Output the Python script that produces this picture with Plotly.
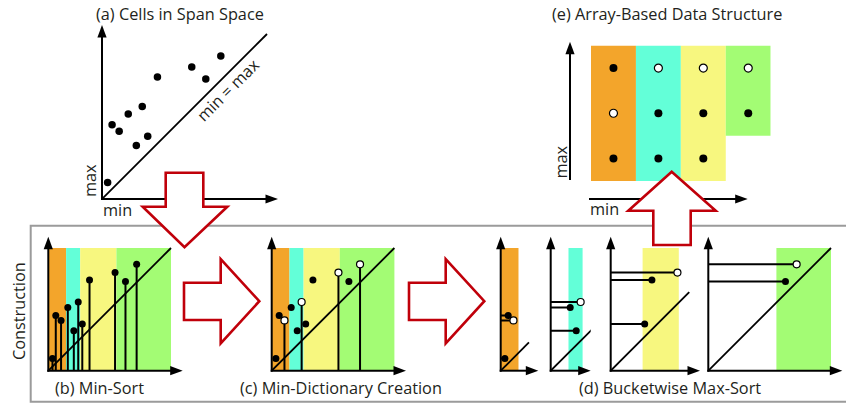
import math
import plotly.graph_objects as go

W, H = 846, 403

# Cells in span space: (min, max) per cell, units where the min = max diagonal spans 0..10
cell_min = [0.34, 0.61, 1.04, 1.59, 2.08, 2.44, 2.77, 3.36, 5.44, 6.29, 7.20]
cell_max = [1.00, 4.50, 4.10, 5.15, 3.25, 5.60, 3.80, 7.40, 8.00, 7.27, 8.67]

# Min-buckets (edges along the min axis) and their colours
bucket_edges = [0.0, 1.45, 2.6, 5.55, 10.0]
bucket_colors = ["#F3A52B", "#63FFD8", "#F7F77F", "#A3FC74"]
SPAN = 10.0

titles = ["(a) Cells in Span Space", "(b) Min-Sort", "(c) Min-Dictionary Creation",
          "(d) Bucketwise Max-Sort", "(e) Array-Based Data Structure"]

FONT = "Open Sans"
FS = 16.3
TXT = "#231F20"
RED = "#C0000A"


def px(x):
    return x / W


def py(y):
    return 1 - y / H


# ---- derived structure -------------------------------------------------------
n_buckets = len(bucket_edges) - 1
bucket_of = []
for m in cell_min:
    k = max(j for j in range(n_buckets) if bucket_edges[j] <= m)
    bucket_of.append(k)
members = [[i for i in range(len(cell_min)) if bucket_of[i] == k] for k in range(n_buckets)]
# dictionary entry of each bucket: the cell with the largest min
dict_entry = [max(mem, key=lambda i: cell_min[i]) for mem in members]

fig = go.Figure()
axes = {}
shapes = []
annotations = []


def make_axes(idx, ox, oy, tx, ty, scale, xr=None, yr=None):
    xn = "x" if idx == 1 else f"x{idx}"
    yn = "y" if idx == 1 else f"y{idx}"
    xk = "xaxis" if idx == 1 else f"xaxis{idx}"
    yk = "yaxis" if idx == 1 else f"yaxis{idx}"
    axes[xk] = dict(domain=[px(ox), px(tx)], range=xr or [0, (tx - ox) / scale],
                    visible=False, fixedrange=True, anchor=yn)
    axes[yk] = dict(domain=[py(oy), py(ty)], range=yr or [0, (oy - ty) / scale],
                    visible=False, fixedrange=True, anchor=xn)
    return xn, yn


def axis_arrow(x0, y0, x1, y1, head=12.5, half=4.6, width=2):
    dx, dy = x1 - x0, y1 - y0
    L = math.hypot(dx, dy)
    ux, uy = dx / L, dy / L
    bx, by = x1 - ux * head, y1 - uy * head
    shapes.append(dict(type="line", xref="paper", yref="paper",
                       x0=px(x0), y0=py(y0), x1=px(bx + ux), y1=py(by + uy),
                       line=dict(color="black", width=width), layer="above"))
    nx, ny = -uy, ux
    path = (f"M{px(x1)},{py(y1)} L{px(bx + nx * half)},{py(by + ny * half)} "
            f"L{px(bx - nx * half)},{py(by - ny * half)} Z")
    shapes.append(dict(type="path", path=path, xref="paper", yref="paper",
                       fillcolor="black", line=dict(width=0), layer="above"))


def block_arrow(points):
    path = "M" + " L".join(f"{px(x)},{py(y)}" for x, y in points) + " Z"
    shapes.append(dict(type="path", path=path, xref="paper", yref="paper",
                       fillcolor="white", line=dict(color=RED, width=2.6), layer="above"))


def text(x, y, s, size=FS, angle=0):
    annotations.append(dict(x=px(x), y=py(y), xref="paper", yref="paper", text=s,
                            showarrow=False, textangle=angle, xanchor="center",
                            yanchor="middle", font=dict(family=FONT, size=size, color=TXT)))


def dots(xn, yn, xs, ys, size=7, hollow=False):
    fig.add_trace(go.Scatter(
        x=xs, y=ys, xaxis=xn, yaxis=yn, mode="markers", cliponaxis=False, hoverinfo="skip",
        marker=dict(size=size, symbol="circle", color="white" if hollow else "black",
                    line=dict(color="black", width=1.2 if hollow else 0))))


def segs(xn, yn, pairs, width=2):
    xs, ys = [], []
    for (a, b), (c, d) in pairs:
        xs += [a, c, None]
        ys += [b, d, None]
    fig.add_trace(go.Scatter(x=xs, y=ys, xaxis=xn, yaxis=yn, mode="lines", cliponaxis=False,
                             hoverinfo="skip", line=dict(color="black", width=width)))


def bands(xn, yn, ks):
    fig.add_trace(go.Bar(
        x=[(bucket_edges[k] + bucket_edges[k + 1]) / 2 for k in ks],
        width=[bucket_edges[k + 1] - bucket_edges[k] for k in ks],
        y=[SPAN] * len(ks), base=0, xaxis=xn, yaxis=yn, hoverinfo="skip",
        marker=dict(color=[bucket_colors[k] for k in ks], line=dict(width=0))))


# ---- (a) cells in span space ----------------------------------------------------
ax_a = dict(ox=102, oy=199, tx=278, ty=25, scale=16.5)
xa, ya = make_axes(1, **ax_a)
segs(xa, ya, [((0, 0), (SPAN, SPAN))], width=1.8)
dots(xa, ya, cell_min, cell_max, size=7.5)
axis_arrow(ax_a["ox"], ax_a["oy"] + 1, ax_a["ox"], ax_a["ty"])
axis_arrow(ax_a["ox"] - 1, ax_a["oy"], ax_a["tx"], ax_a["oy"])
text(90, 181, "max", angle=-90)
text(117, 210, "min")
text(228, 90, "min = max", angle=-45)
text(179.7, 14, titles[0])

# ---- construction panels ---------------------------------------------------------
S = 12.27
OY, TY = 370.7, 236.7

# (b) min-sort
geo_b = dict(ox=48.3, oy=OY, tx=182.7, ty=TY, scale=S)
xb, yb = make_axes(2, **geo_b)
bands(xb, yb, list(range(n_buckets)))
segs(xb, yb, [((0, 0), (SPAN, SPAN))], width=1.8)
segs(xb, yb, [((m, 0), (m, M)) for m, M in zip(cell_min, cell_max)], width=2)
dots(xb, yb, cell_min, cell_max)

# (c) min-dictionary creation
geo_c = dict(ox=271.7, oy=OY, tx=406, ty=TY, scale=S)
xc, yc = make_axes(3, **geo_c)
bands(xc, yc, list(range(n_buckets)))
segs(xc, yc, [((0, 0), (SPAN, SPAN))], width=1.8)
segs(xc, yc, [((cell_min[i], 0), (cell_min[i], cell_max[i])) for i in dict_entry], width=2)
rest = [i for i in range(len(cell_min)) if i not in dict_entry]
dots(xc, yc, [cell_min[i] for i in rest], [cell_max[i] for i in rest])
dots(xc, yc, [cell_min[i] for i in dict_entry], [cell_max[i] for i in dict_entry], hollow=True)

# (d) bucketwise max-sort, one small plot per bucket
d_left = [500.7, 550.7, 610.7, 708.3]
d_tip = [538.3, 590.7, 700.0, 842.3]
d_geo = []
for k in range(n_buckets):
    g = dict(ox=d_left[k], oy=OY, tx=d_tip[k], ty=TY, scale=S)
    d_geo.append(g)
    xd, yd = make_axes(4 + k, **g)
    bands(xd, yd, [k])
    diag_end = min(SPAN, bucket_edges[k + 1] + 0.85)
    segs(xd, yd, [((0, 0), (diag_end, diag_end))], width=1.8)
    segs(xd, yd, [((0, cell_max[i]), (cell_min[i], cell_max[i])) for i in members[k]], width=2)
    full = [i for i in members[k] if i != dict_entry[k]]
    dots(xd, yd, [cell_min[i] for i in full], [cell_max[i] for i in full])
    dots(xd, yd, [cell_min[dict_entry[k]]], [cell_max[dict_entry[k]]], hollow=True)

for g in [geo_b, geo_c] + d_geo:
    axis_arrow(g["ox"], g["oy"] + 1, g["ox"], g["ty"])
    axis_arrow(g["ox"] - 1, g["oy"], g["tx"], g["oy"])

text(99.7, 387.5, titles[1])
text(341, 387.5, titles[2])
text(669.5, 387.5, titles[3])
text(19, 311, "Construction", angle=-90)

# ---- (e) array-based data structure ---------------------------------------------
xe, ye = make_axes(8, ox=591, oy=181, tx=770.7, ty=45.5, scale=1,
                   xr=[0, n_buckets], yr=[3, 0])
fig.add_trace(go.Bar(
    x=[k + 0.5 for k in range(n_buckets)], y=[len(m) for m in members], width=1, base=0,
    xaxis=xe, yaxis=ye, hoverinfo="skip",
    marker=dict(color=bucket_colors, line=dict(width=0))))
ex_f, ey_f, ex_o, ey_o = [], [], [], []
for k in range(n_buckets):
    order = sorted(members[k], key=lambda i: -cell_max[i])
    for r, i in enumerate(order):
        if i == dict_entry[k]:
            ex_o.append(k + 0.5)
            ey_o.append(r + 0.5)
        else:
            ex_f.append(k + 0.5)
            ey_f.append(r + 0.5)
dots(xe, ye, ex_f, ey_f, size=8)
dots(xe, ye, ex_o, ey_o, size=8, hollow=True)
axis_arrow(570, 180, 570, 41.7)
axis_arrow(589, 199, 747.7, 199)
text(560, 162.5, "max", angle=-90)
text(604.3, 209.3, "min")
text(667, 14, titles[4])

# ---- frame and flow arrows ---------------------------------------------------------
frame = dict(type="rect", xref="paper", yref="paper", x0=px(30.7), y0=py(401.7),
             x1=px(870), y1=py(225.7), line=dict(color="#9B9B9B", width=2), layer="below")
shapes.insert(0, frame)

# (a) -> construction
block_arrow([(165.7, 172.7), (203.3, 172.7), (203.3, 206.7), (227.3, 206.7),
             (184.5, 247.3), (142.7, 206.7), (165.7, 206.7)])
# (b) -> (c) and (c) -> (d)
for x0 in (184.0, 409.0):
    block_arrow([(x0, 282.7), (x0 + 36.7, 282.7), (x0 + 36.7, 259.0), (x0 + 75.3, 301.2),
                 (x0 + 36.7, 343.3), (x0 + 36.7, 320.0), (x0, 320.0)])
# construction -> (e)
block_arrow([(653.3, 245.0), (653.3, 210.7), (628.3, 210.7), (671.7, 171.7),
             (715.7, 210.7), (690.7, 210.7), (690.7, 245.0)])

fig.update_layout(
    width=W, height=H, autosize=False,
    margin=dict(l=0, r=0, t=0, b=0, pad=0),
    paper_bgcolor="white", plot_bgcolor="rgba(0,0,0,0)",
    showlegend=False, hovermode=False, barmode="overlay",
    shapes=shapes, annotations=annotations, **axes)

fig.write_html("out.html", config={"displayModeBar": False, "staticPlot": True})
